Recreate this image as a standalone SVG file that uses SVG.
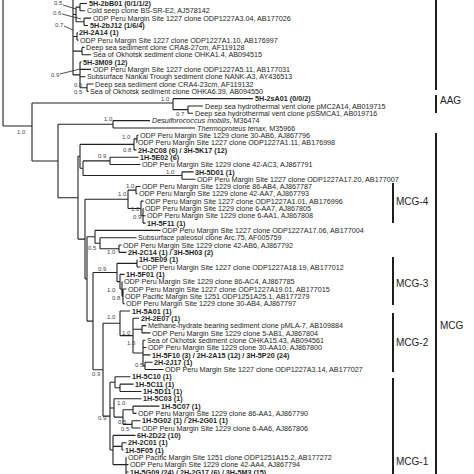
<svg xmlns="http://www.w3.org/2000/svg" width="474" height="474" viewBox="0 0 474 474">
<style>
text{font-family:"Liberation Sans",Arial,sans-serif;font-size:7.2px;fill:#1e1e1e}
.b{font-weight:bold}
.i{font-style:italic}
.s{font-size:6px;fill:#444}
.c{font-size:10px}
path{fill:none;stroke:#222;stroke-width:1.1}
.br{stroke-width:2;stroke:#1e1e1e}
.ld{stroke-width:0.8}
</style>
<rect width="474" height="474" fill="#fff"/>
<g id="connectors">
<path d="M3,0V126M3,126H32"/>
<path d="M73,0V74.9M73,14.5H76M76,7.16V21.8M76,7.16H80M80,3.5V10.82M80,3.5H87M80,10.82H85M76,21.8H84M84,18.14V25.46M84,18.14H91M84,25.46H88"/>
<path d="M73,36.44H77M77,32.78V40.1M77,32.78H78M77,40.1H78.5M73,51.1H82M82,47.42V54.74M82,47.42H84.5M82,54.74H91"/>
<path d="M73,74.9H80M80,62.06V87.7M80,62.06H81.5M80,69.38H91M80,76.7H85.5M80,87.7H87M87,84.02V91.34M87,84.02H93.5M87,91.34H88.5"/>
<path d="M32,103V161M32,103H173M173,98.66V109.64M173,98.66H253M173,109.64H188M188,105.98V113.3M188,105.98H203M188,113.3H193"/>
<path d="M32,161H58M58,124.3V197.7M58,124.3H113M113,120.62V127.94M113,120.62H150M113,127.94H195"/>
<path d="M58,197.7H78M78,156.3V239.1"/>
<path d="M78,156.3H80M80,144.4V168.2M80,144.4H134M134,138.9V149.9M134,138.9H137M137,135.26V142.58M137,135.26H138.5M137,142.58H136.5M134,149.9H136.5M80,168.2H83M83,160.88V175.52M83,160.88H110M110,157.22V164.54M110,157.22H138.5M110,164.54H140.5M83,175.52H182M182,171.86V179.18M182,171.86H193.5M182,179.18H195.5"/>
<path d="M78,239.1H85M85,199.3V278.95M85,199.3H128M128,190.16V208.46M128,190.16H136M136,186.5V193.82M136,186.5H140.5M136,193.82H137.5M128,208.46H141M141,201.14V215.78M141,201.14H143.5M141,215.78H143M143,208.46V223.1M143,208.46H143.5M143,215.78H145.5M143,223.1H145.5"/>
<path d="M85,278.95H87M87,236.8V321.1M87,236.8H95M95,230.42V243.23M95,230.42H160.5M95,243.23H100M100,237.74V248.72M100,237.74H136.5M100,248.72H119M119,245.06V252.38M119,245.06H121.5M119,252.38H126.5"/>
<path d="M87,321.1H93M93,272.5V369.73M93,272.5H117M117,263.36V281.66M117,263.36H137M137,259.7V267.02M137,259.7H137.5M137,267.02H140.5M117,281.66H120M120,274.34V288.98M120,274.34H124.5M120,288.98H122M122,281.66V296.3M122,281.66H122.5M122,296.3H123M123,288.98V303.62M123,288.98H126.5M123,296.3H123.5M123,303.62H124.5"/>
<path d="M93,369.73H103M103,323.3V416.16M103,323.3H120M120,310.94V335.6M120,310.94H130M120,335.6H133M133,318.26V353.03M133,318.26H139M133,329.24H142M142,325.58V332.9M142,325.58H146.5M142,332.9H150.5M133,353.03H143M143,340.22V365.84M143,340.22H145.5M143,347.54H146.5M143,354.86H150.5M143,365.84H145M145,362.18V369.5M145,362.18H152.5M145,369.5H163.5"/>
<path d="M103,416.16H110M110,382.3V450.02M110,382.3H115M115,376.82V387.8M115,376.82H130.5M115,387.8H120M120,384.14V391.46M120,384.14H133.5M120,391.46H141.5M110,407.94H114M114,398.78V417.1M114,398.78H141.5M114,417.1H123M123,409.76V424.4M123,409.76H133M133,406.1V413.42M133,406.1H159.5M133,413.42H136.5M123,424.4H132M132,420.74V428.06M132,420.74H140.5M132,428.06H140.5"/>
<path d="M110,450.02H113M113,435.38V464.66M113,435.38H135.5M113,446.36H122M122,442.7V450.02M122,442.7H126.5M122,450.02H123.5M113,464.66H126M126,457.34V474M126,457.34H126.5M126,464.66H128.5M126,471.98H128.5"/>
<path class="ld" d="M63,5L76,9M62,14L81,19M64,26L73,30M60,74L80,69"/>
</g>
<g id="support">
<text class="s" x="54" y="5">0.5</text>
<text class="s" x="53" y="15">0.6</text>
<text class="s" x="55" y="27">0.7</text>
<text class="s" x="51" y="77">0.9</text>
<text class="s" x="74" y="87">0.6</text>
<text class="s" x="74" y="94">0.5</text>
<text class="s" x="161" y="101">1.0</text>
<text class="s" x="176" y="116">0.7</text>
<text class="s" x="104" y="121">1.0</text>
<text class="s" x="17" y="134">1.0</text>
<text class="s" x="122" y="139">1.0</text>
<text class="s" x="123" y="152">0.8</text>
<text class="s" x="98" y="158">0.9</text>
<text class="s" x="166" y="174">1.0</text>
<text class="s" x="126" y="188">1.0</text>
<text class="s" x="118" y="196">1.0</text>
<text class="s" x="131" y="211">1.0</text>
<text class="s" x="133" y="219">0.9</text>
<text class="s" x="88" y="250">0.5</text>
<text class="s" x="107" y="254">1.0</text>
<text class="s" x="98" y="271">0.9</text>
<text class="s" x="107" y="292">1.0</text>
<text class="s" x="112" y="300">0.8</text>
<text class="s" x="107" y="319">1.0</text>
<text class="s" x="122" y="335">1.0</text>
<text class="s" x="127" y="345">1.0</text>
<text class="s" x="135" y="367">0.5</text>
<text class="s" x="92" y="376">0.9</text>
<text class="s" x="117" y="405">1.0</text>
<text class="s" x="98" y="420">0.9</text>
<text class="s" x="118" y="424">0.5</text>
<text class="s" x="121" y="431">0.5</text>
</g>
<g id="leaves">
<text class="b" x="89" y="6.1">5H-2bB01 (0/1/1/2)</text>
<text x="87" y="13.4">Cold seep clone BS-SR-E2, AJ578142</text>
<text x="93" y="20.7">ODP Peru Margin Site 1227 clone ODP1227A3.04, AB177026</text>
<text class="b" x="90" y="28">5H-2bJ12 (1/6/4)</text>
<text class="b" x="79" y="35.4">2H-2A14 (1)</text>
<text x="80" y="42.7">ODP Peru Margin Site 1227 clone ODP1227A1.10, AB176997</text>
<text x="86" y="50">Deep sea sediment clone CRA8-27cm, AF119128</text>
<text x="93" y="57.3">Sea of Okhotsk sediment clone OHKA1.4, AB094515</text>
<text class="b" x="83" y="64.7">5H-3M09 (12)</text>
<text x="93" y="72">ODP Peru Margin Site 1227 clone ODP1227A5.11, AB177031</text>
<text x="87" y="79.3">Subsurface Nankai Trough sediment clone NANK-A3, AY436513</text>
<text x="95" y="86.6">Deep sea sediment clone CRA4-23cm, AF119132</text>
<text x="90" y="93.9">Sea of Okhotsk sediment clone OHKA6.39, AB094550</text>
<text class="b" x="255" y="101.3">5H-2sA01 (0/0/2)</text>
<text x="205" y="108.6">Deep sea hydrothermal vent clone pMC2A14, AB019715</text>
<text x="195" y="115.9">Deep sea hydrothermal vent clone pSSMCA1, AB019716</text>
<text x="152" y="123.2"><tspan class="i">Desulforococcus mobilis</tspan>, M36474</text>
<text x="197" y="130.5"><tspan class="i">Thermoproteus tenax</tspan>, M35966</text>
<text x="140" y="137.9">ODP Peru Margin Site 1229 clone 30-AB6, AJ867796</text>
<text x="138" y="145.2">ODP Peru Margin Site 1227 clone ODP1227A1.11, AB176998</text>
<text class="b" x="138" y="152.5">2H-2C08 (6) / 3H-5K17 (12)</text>
<text class="b" x="140" y="159.8">1H-5E02 (6)</text>
<text x="142" y="167.1">ODP Peru Margin Site 1229 clone 42-AC3, AJ867791</text>
<text class="b" x="195" y="174.5">3H-5D01 (1)</text>
<text x="197" y="181.8">ODP Peru Margin Site 1227 clone ODP1227A17.20, AB177007</text>
<text x="142" y="189.1">ODP Peru Margin Site 1229 clone 86-AB4, AJ867787</text>
<text x="139" y="196.4">ODP Peru Margin Site 1229 clone 42-AA7, AJ867793</text>
<text x="145" y="203.7">ODP Peru Margin Site 1227 clone ODP1227A1.01, AB176996</text>
<text x="145" y="211.1">ODP Peru Margin Site 1229 clone 6-AA7, AJ867805</text>
<text x="147" y="218.4">ODP Peru Margin Site 1229 clone 6-AA1, AJ867808</text>
<text class="b" x="147" y="225.7">1H-5F11 (1)</text>
<text x="162" y="233">ODP Peru Margin Site 1227 clone ODP1227A17.06, AB177004</text>
<text x="138" y="240.3">Subsurface paleosol clone Arc.75, AF005759</text>
<text x="123" y="247.7">ODP Peru Margin Site 1229 clone 42-AB6, AJ867792</text>
<text class="b" x="128" y="255">2H-2C14 (1) / 3H-5H03 (2)</text>
<text class="b" x="139" y="262.3">1H-5E09 (1)</text>
<text x="142" y="269.6">ODP Peru Margin Site 1227 clone ODP1227A18.19, AB177012</text>
<text class="b" x="126" y="276.9">1H-5F01 (1)</text>
<text x="124" y="284.3">ODP Peru Margin Site 1229 clone 86-AC4, AJ867785</text>
<text x="128" y="291.6">ODP Peru Margin Site 1227 clone ODP1227A19.01, AB177015</text>
<text x="125" y="298.9">ODP Pacific Margin Site 1251 ODP1251A25.1, AB177279</text>
<text x="126" y="306.2">ODP Peru Margin Site 1229 clone 30-AB4, AJ867797</text>
<text class="b" x="132" y="313.5">1H-5A01 (1)</text>
<text class="b" x="141" y="320.9">2H-2E07 (1)</text>
<text x="148" y="328.2">Methane-hydrate bearing sediment clone pMLA-7, AB109884</text>
<text x="152" y="335.5">ODP Peru Margin Site 1229 clone 5-AB1, AJ867804</text>
<text x="147" y="342.8">Sea of Okhotsk sediment clone OHKA15.43, AB094561</text>
<text x="148" y="350.1">ODP Peru Margin Site 1229 clone 30-AA10, AJ867800</text>
<text class="b" x="152" y="357.5">1H-5F10 (3) / 2H-2A15 (12) / 3H-5P20 (24)</text>
<text class="b" x="154" y="364.8">2H-2J17 (1)</text>
<text x="165" y="372.1">ODP Peru Margin Site 1227 clone ODP1227A3.14, AB177027</text>
<text class="b" x="132" y="379.4">1H-5C10 (1)</text>
<text class="b" x="135" y="386.7">1H-5C11 (1)</text>
<text class="b" x="143" y="394.1">1H-5D11 (1)</text>
<text class="b" x="143" y="401.4">1H-5C03 (1)</text>
<text class="b" x="161" y="408.7">1H-5C07 (1)</text>
<text x="138" y="416">ODP Peru Margin Site 1229 clone 86-AA1, AJ867790</text>
<text class="b" x="142" y="423.3">1H-5G02 (1) / 2H-2G01 (1)</text>
<text x="142" y="430.7">ODP Peru Margin Site 1229 clone 6-AA6, AJ867806</text>
<text class="b" x="137" y="438">6H-2D22 (10)</text>
<text class="b" x="128" y="445.3">2H-2C01 (1)</text>
<text class="b" x="125" y="452.6">1H-5F05 (1)</text>
<text x="128" y="459.9">ODP Pacific Margin Site 1251 clone ODP1251A15.2, AB177272</text>
<text x="130" y="467.3">ODP Peru Margin Site 1229 clone 42-AA4, AJ867794</text>
<text class="b" x="130" y="474.6">1H-5G09 (24) / 2H-2G17 (6) / 3H-5M3 (15)</text>
</g>
<g id="clade-top"><path class="br" d="M436,0V90"/></g>
<g id="clade-AAG"><path class="br" d="M436,95V113"/><text class="c" x="440" y="104">AAG</text></g>
<g id="clade-MCG"><path class="br" d="M436,133V474"/><text class="c" x="440" y="329">MCG</text></g>
<g id="clade-MCG4"><path class="br" d="M393,183V223"/><text class="c" x="396" y="205">MCG-4</text></g>
<g id="clade-MCG3"><path class="br" d="M393,257V305"/><text class="c" x="396" y="287">MCG-3</text></g>
<g id="clade-MCG2"><path class="br" d="M393,313V372"/><text class="c" x="396" y="346">MCG-2</text></g>
<g id="clade-MCG1"><path class="br" d="M393,378V474"/><text class="c" x="396" y="465">MCG-1</text></g>
</svg>
